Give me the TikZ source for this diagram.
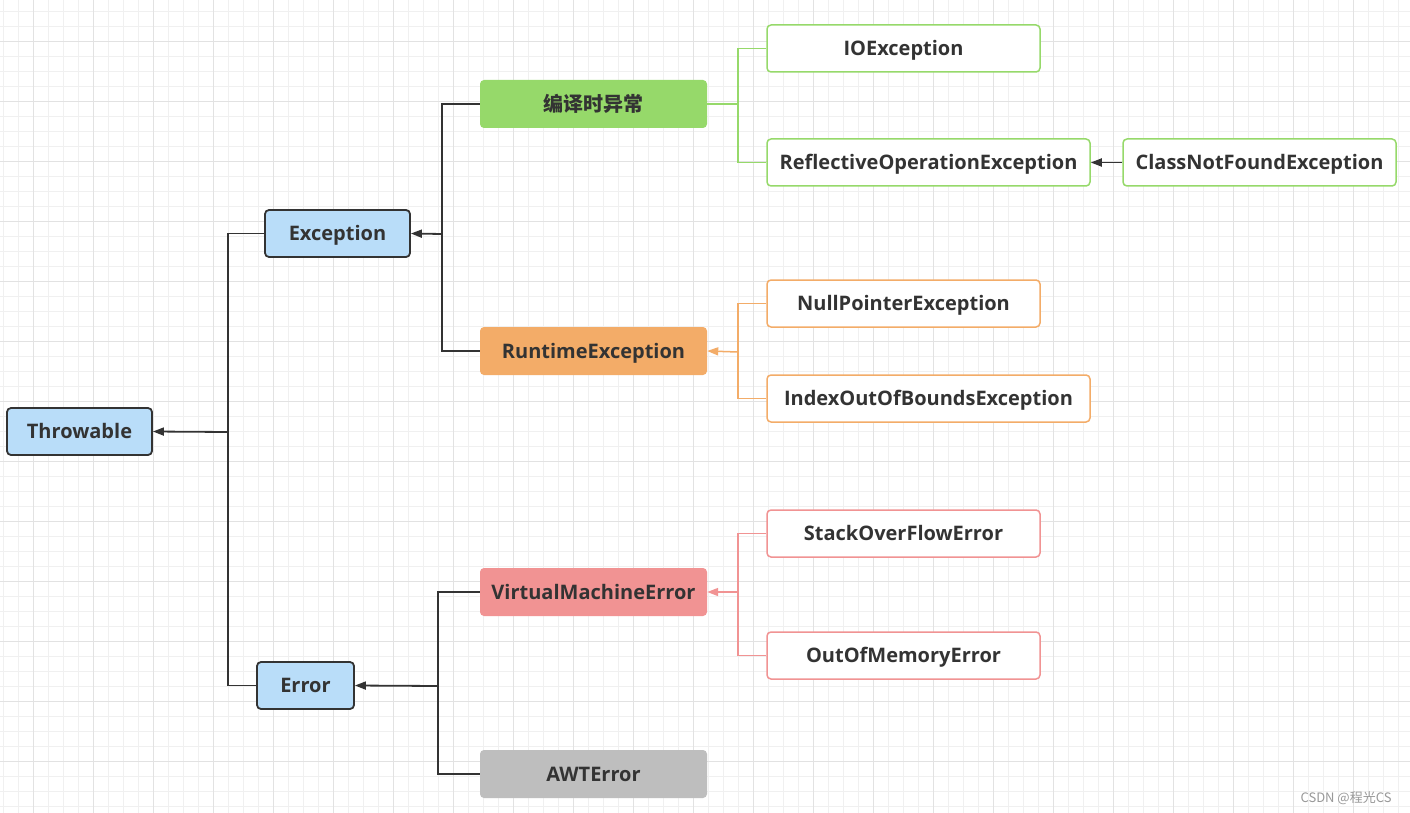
\documentclass[tikz,border=0pt]{standalone}
\usepackage{fontspec}
\setmainfont{Open Sans}
\newfontfamily\cjk{Noto Sans CJK SC}
\usetikzlibrary{arrows.meta}
\definecolor{ink}{HTML}{333333}
\definecolor{gridminor}{HTML}{F0F0F0}
\definecolor{gridmajor}{HTML}{E2E2E2}
\definecolor{rootfill}{HTML}{B9DDF9}
\definecolor{chkfill}{HTML}{96D96A}
\definecolor{rtfill}{HTML}{F3AC68}
\definecolor{vmfill}{HTML}{F19393}
\definecolor{awtfill}{HTML}{BEBEBE}
\tikzset{
  box/.style={rounded corners=4pt, inner sep=0pt, minimum height=47pt, text=ink,
    text height=14.3pt, text depth=0pt, font=\bfseries\fontsize{20}{20}\selectfont},
  rootbox/.style={box, draw=ink, line width=1.8pt, fill=rootfill},
  midbox/.style={box, minimum height=48pt, minimum width=227pt, fill=#1},
  leafbox/.style={box, draw=#1, line width=1.5pt, fill=white},
  tie/.style={draw=ink, line width=1.8pt},
  tiearrow/.style={tie, -{Triangle[length=11pt,width=8pt]}},
  branch/.style={draw=#1, line width=1.5pt},
  brancharrow/.style={branch=#1, -{Triangle[length=11pt,width=8pt]}}
}
\begin{document}
\begin{tikzpicture}[x=1pt,y=1pt]
    \useasboundingbox (0,0) rectangle (1410,-813);
    \fill[white] (0,0) rectangle (1410,-813);
    % grid
    \foreach \i in {0,...,93} \draw[gridminor, line width=0.8pt] ({3.33+15*\i},0) -- ++(0,-813);
    \foreach \i in {0,...,53} \draw[gridminor, line width=0.8pt] (0,{-11.67-15*\i}) -- ++(1410,0);
    \foreach \i in {0,...,23} \draw[gridmajor, line width=0.8pt] ({33.33+60*\i},0) -- ++(0,-813);
    \foreach \i in {0,...,12} \draw[gridmajor, line width=0.8pt] (0,{-41.67-60*\i}) -- ++(1410,0);

    \node[rootbox, minimum width=145pt] (thr) at (79.5,-431.5) {Throwable};
    \node[rootbox, minimum width=145pt] (exc) at (337.5,-233.5) {Exception};
    \node[rootbox, minimum width=97pt] (err) at (305.5,-685.5) {Error};

    \node[midbox=chkfill] (chk) at (593.5,-104) {\cjk\bfseries 编译时异常};
    \node[midbox=rtfill] (rt) at (593.5,-351) {RuntimeException};
    \node[midbox=vmfill] (vme) at (593.5,-592) {VirtualMachineError};
    \node[midbox=awtfill] (awt) at (593.5,-774) {AWTError};

    \node[leafbox=chkfill, minimum width=273pt] (io) at (903.5,-48.5) {IOException};
    \node[leafbox=chkfill, minimum width=323pt] (refl) at (928.5,-162.5) {ReflectiveOperationException};
    \node[leafbox=chkfill, minimum width=273pt] (cnf) at (1259.5,-162.5) {ClassNotFoundException};
    \node[leafbox=rtfill, minimum width=273pt] (npe) at (903.5,-303.5) {NullPointerException};
    \node[leafbox=rtfill, minimum width=323pt] (ioobe) at (928.5,-398.5) {IndexOutOfBoundsException};
    \node[leafbox=vmfill, minimum width=273pt] (soe) at (903.5,-533.5) {StackOverFlowError};
    \node[leafbox=vmfill, minimum width=273pt] (oom) at (903.5,-655.5) {OutOfMemoryError};

    \coordinate (thrbus) at (228,-432);
    \coordinate (excbus) at (442,-234);
    \coordinate (errbus) at (438,-686);
    \coordinate (chkbus) at (738,-104);
    \coordinate (rtbus) at (738,-352);
    \coordinate (vmbus) at (738,-592);

    \draw[tie] (exc.west) -| (thrbus) |- (err.west);
    \draw[tiearrow] (thrbus) -- (thr.east);
    \draw[tie] (chk.west) -| (excbus) |- (rt.west);
    \draw[tiearrow] (excbus) -- (exc.east);
    \draw[tie] (vme.west) -| (errbus) |- (awt.west);
    \draw[tiearrow] (errbus) -- (err.east);

    \draw[branch=chkfill] (io.west) -| (chkbus) |- (refl.west);
    \draw[branch=chkfill] (chkbus) -- (chk.east);
    \draw[tiearrow] (cnf.west) -- (refl.east);
    \draw[branch=rtfill] (npe.west) -| (rtbus) |- (ioobe.west);
    \draw[brancharrow=rtfill] (rtbus) -- (rt.east);
    \draw[branch=vmfill] (soe.west) -| (vmbus) |- (oom.west);
    \draw[brancharrow=vmfill] (vmbus) -- (vme.east);

    \node[anchor=base east, text=awtfill!80!black, font=\cjk\fontsize{13}{13}\selectfont] (mark) at (1395,-802) {CSDN @程光CS};
\end{tikzpicture}
\end{document}
